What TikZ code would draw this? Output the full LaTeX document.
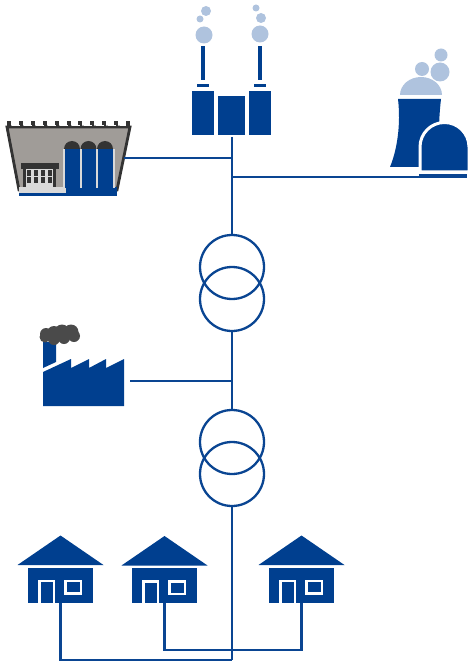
\documentclass[tikz,border=0pt]{standalone}
\usepackage{tikz}
\definecolor{gridblue}{HTML}{003F8F}
\definecolor{linkblue}{HTML}{0A4592}
\definecolor{steam}{HTML}{AFC3DE}
\definecolor{soot}{HTML}{4A4A4A}
\definecolor{coaldark}{HTML}{333333}
\definecolor{coalgrey}{HTML}{A09C98}
\definecolor{coallight}{HTML}{D9D9D9}
\tikzset{
  link/.style={draw=linkblue,line width=2.3pt},
  xfmr/.style={circle,draw=linkblue,line width=2.3pt,minimum size=64pt,inner sep=0pt},
  house/.pic={
    \fill[gridblue] (0,0) -- (43,29.5) -- (-43,29.5) -- cycle;
    \fill[gridblue] (-33,32) rectangle (32.5,67);
    \fill[white] (-22.5,44) rectangle (-5.5,67);
    \fill[gridblue] (-20,46.5) rectangle (-8,67);
    \fill[white] (3.5,44) rectangle (21.5,59);
    \fill[gridblue] (6,46.5) rectangle (19,56.5);
    \coordinate (-feed) at (0,67);
  }
}
\begin{document}
\begin{tikzpicture}[x=1pt,y=-1pt]
    \useasboundingbox (0,0) rectangle (467,663);
    % transformers
    \node[xfmr] (t1) at (232,267) {};
    \node[xfmr] (t2) at (232,299) {};
    \node[xfmr] (t3) at (232,442) {};
    \node[xfmr] (t4) at (232,474) {};
    % power station
    \fill[gridblue] (192,91) rectangle (214,135);
    \fill[gridblue] (218,96) rectangle (245,135);
    \fill[gridblue] (249,91) rectangle (271,135);
    \fill[gridblue] (201,46) rectangle (205,80);
    \fill[gridblue] (258,46) rectangle (262,80);
    \fill[gridblue] (197,84.500) rectangle (209,87);
    \fill[gridblue] (254,84.500) rectangle (266,87);
    \fill[steam] (204,35) circle (8.5);
    \fill[steam] (200,19) circle (3.5);
    \fill[steam] (206,11) circle (5);
    \fill[steam] (260,34) circle (8.5);
    \fill[steam] (261,18) circle (5);
    \fill[steam] (256,8) circle (3.5);
    \coordinate (station) at (232,137);
    % coal plant
    \draw[fill=coalgrey,draw=coaldark,line width=2.8pt] (7,127) -- (130,127) -- (117,190) -- (19,190) -- cycle;
    \foreach \px in {9,21,33,45,57,69,80,92,104,116,128}
      \fill[coaldark] (\px-2,121) rectangle (\px+2,127);
    \draw[white,line width=0.8pt,dash pattern=on 8pt off 4pt] (12,125.500) -- (126,125.500);
    \fill[coallight] (19,187) rectangle (66,193);
    \fill[gridblue] (66,187) rectangle (117,193);
    \fill[gridblue] (19,193) rectangle (117,196);
    \fill[coallight] (63,149) rectangle (115,188);
    \foreach \px in {65,81.500,98} {
      \fill[gridblue] (\px,149) rectangle (\px+14.500,188);
      \fill[coaldark] (\px-1,149) arc[start angle=180,end angle=360,x radius=8,y radius=8] -- cycle;
    }
    \fill[coaldark] (21,163) rectangle (59,169);
    \fill[coaldark] (23,169) rectangle (56,187);
    \fill[coallight] (26,169) rectangle (53,187);
    \foreach \px in {27,34,41,48}
      \foreach \py in {170,177}
        \fill[coaldark] (\px,\py) rectangle (\px+4,\py+6);
    \coordinate (coal) at (124,158);
    % nuclear plant
    \fill[steam] (400,95) arc[start angle=180,end angle=360,x radius=21,y radius=18] -- cycle;
    \fill[steam] (422,69) circle (7);
    \fill[steam] (440,72) circle (9.5);
    \fill[steam] (441,55) circle (6.5);
    \fill[gridblue] (398,99) -- (441,99) .. controls (438,125) and (438,150) .. (445,167) -- (390,167) .. controls (397,150) and (401,125) .. (398,99) -- cycle;
    \fill[gridblue,draw=white,line width=3pt] (420,172) -- (420,147) arc[start angle=180,end angle=360,radius=24.500] -- (469,172) -- cycle;
    \coordinate (nuke) at (466,175);
    \coordinate (nukeleft) at (419,175);
    % factory
    \fill[gridblue] (43,342) -- (56,342) -- (56,362) -- (43,368) -- cycle;
    \fill[gridblue] (43,372) -- (71,359) -- (71,368) -- (89,359) -- (89,368) -- (106,359) -- (106,368) -- (124,359) -- (124,406) -- (43,406) -- cycle;
    \foreach \px/\py/\pr in {46/334/6,45/337/5.500,54/333/7,62/332/7.500,71/332/7.500,74/336/6,64/338/6,54/339/6}
      \fill[soot] (\px,\py) circle (\pr);
    \coordinate (factory) at (130,381);
    % houses
    \pic (h1) at (60.5,535.5) {house};
    \pic (h2) at (164.5,536) {house};
    \pic (h3) at (301.5,535.5) {house};
    % connections
    \coordinate (j1) at (232,158);
    \coordinate (j2) at (232,177);
    \coordinate (j3) at (232,381);
    \coordinate (j4) at (232,650);
    \coordinate (j5) at (232,660);
    \draw[link] (station) -- (t1.north);
    \draw[link] (coal) -- (j1);
    \draw[link] (nukeleft) -- (nuke) |- (j2);
    \draw[link] (t2.south) -- (t3.north);
    \draw[link] (factory) -- (j3);
    \draw[link] (t4.south) -- (j5);
    \draw[link] (h1-feed) |- (j5);
    \draw[link] (h2-feed) |- (j4);
    \draw[link] (h3-feed) |- (j4);
  \end{tikzpicture}
\end{document}
